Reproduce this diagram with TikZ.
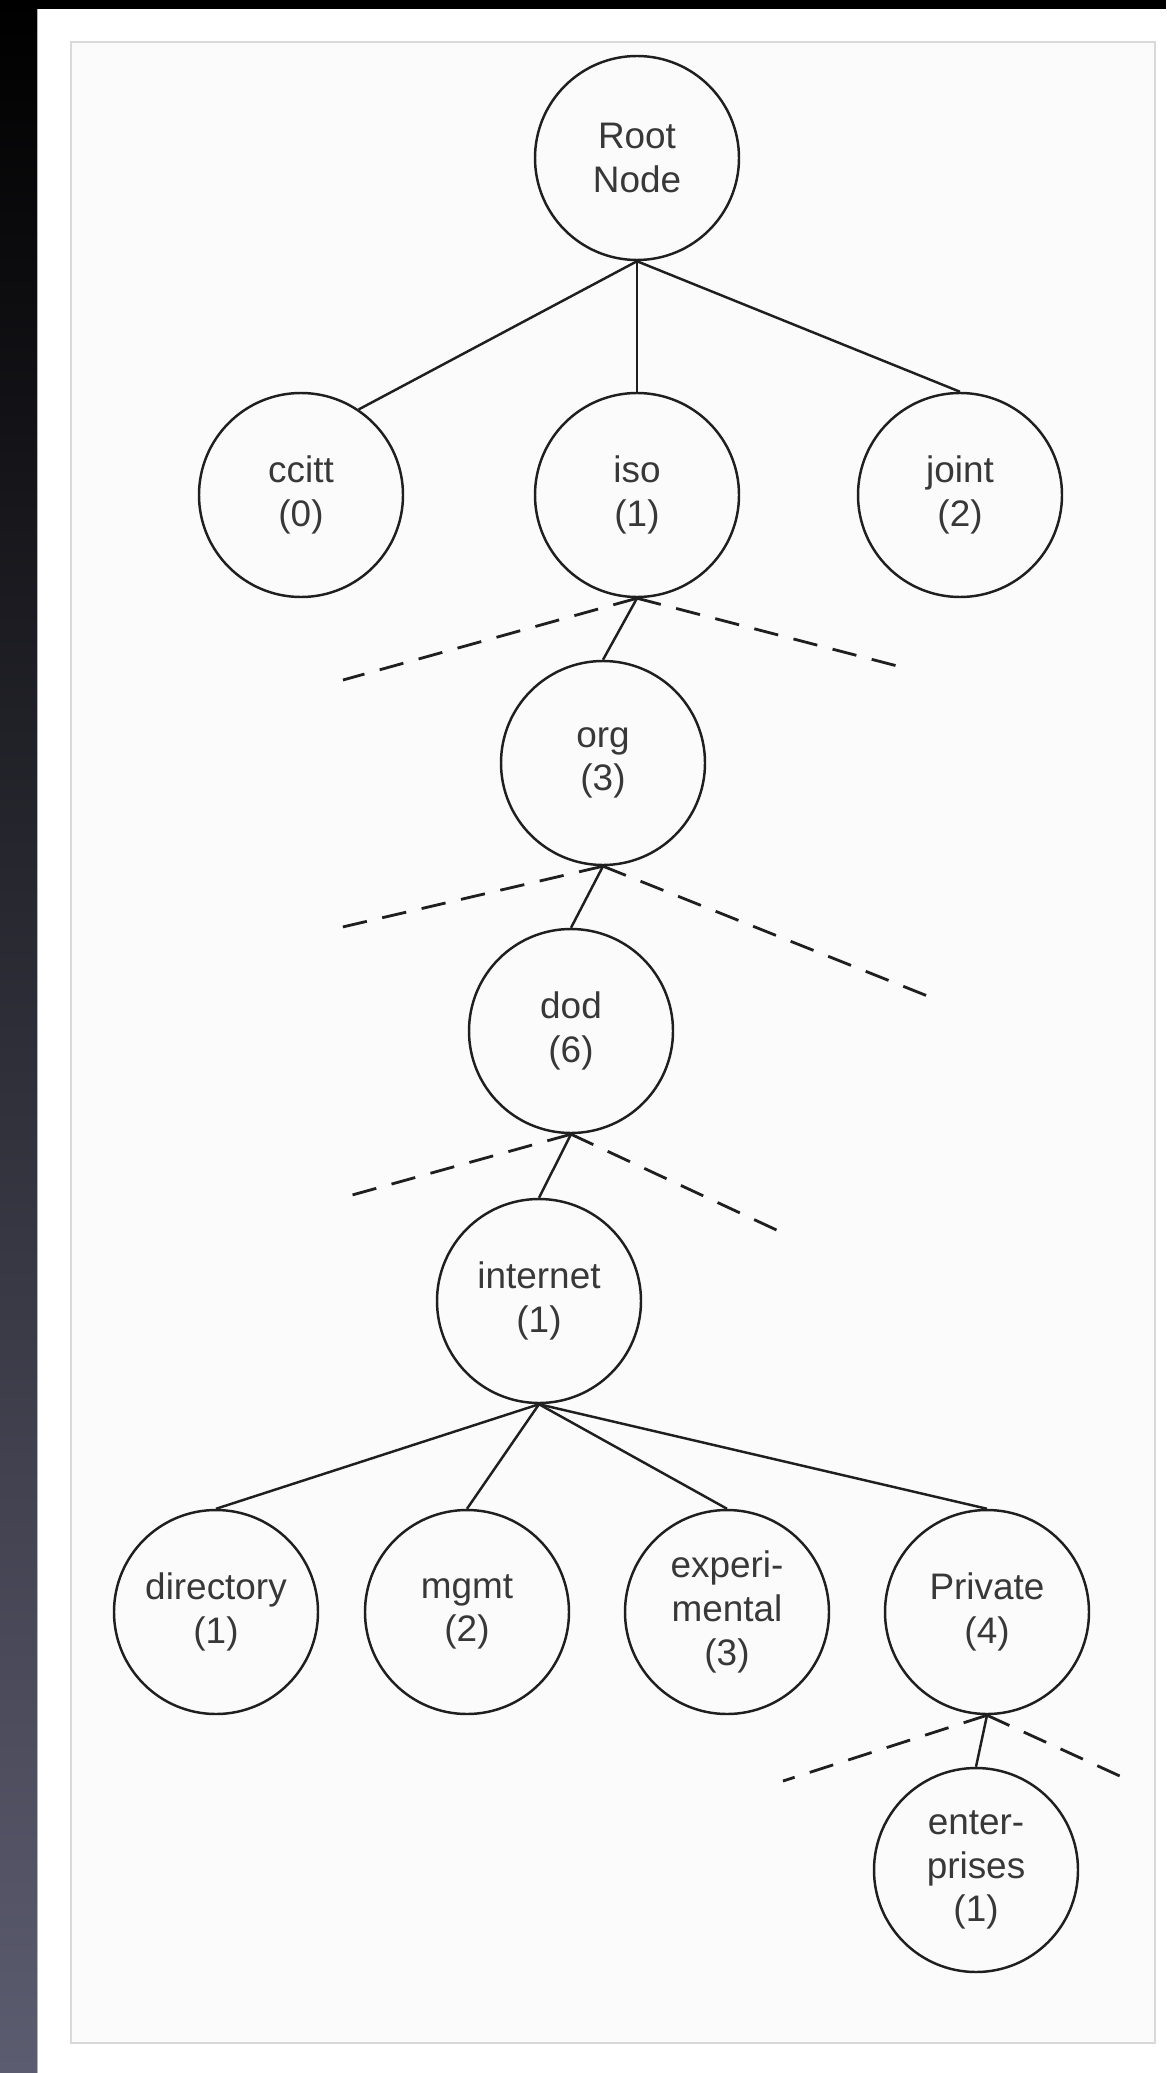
\documentclass[tikz,border=0pt]{standalone}
\usepackage{fontspec}
\setmainfont{Liberation Sans}
\tikzset{
    oid/.style={circle,draw=black!88,line width=0.7pt,minimum size=2.04cm,inner sep=0pt,align=center,text=black!78,font=\fontsize{10.5pt}{12.4pt}\selectfont},
    link/.style={draw=black!88,line width=0.7pt},
    stub/.style={draw=black!88,line width=0.8pt,dash pattern=on 7pt off 4.5pt}
}

\begin{document}
\begin{tikzpicture}
        \useasboundingbox (0,0) rectangle (11.66,-20.73);
        \fill[white] (0,0) rectangle (11.66,-20.73);
        \shade[top color=black,middle color={rgb,255:red,22;green,22;blue,45},bottom color={rgb,255:red,92;green,92;blue,112}] (0,0) rectangle (0.37,-20.73);
        \fill[black] (0,0) rectangle (11.66,-0.09);
        \draw[black!30,line width=0.4pt] (0.375,-0.09) -- (0.375,-20.73);
        \draw[fill=black!1.5,draw=black!15,line width=0.5pt] (0.71,-0.42) rectangle (11.55,-20.43);

        \node[oid] (root) at (6.37,-1.58) {Root\\Node};
        \node[oid] (ccitt) at (3.01,-4.95) {ccitt\\(0)};
        \node[oid] (iso) at (6.37,-4.95) {iso\\(1)};
        \node[oid] (joint) at (9.60,-4.95) {joint\\(2)};
        \node[oid] (org) at (6.03,-7.63) {org\\(3)};
        \node[oid] (dod) at (5.71,-10.31) {dod\\(6)};
        \node[oid] (inet) at (5.39,-13.01) {internet\\(1)};
        \node[oid] (dir) at (2.16,-16.12) {directory\\(1)};
        \node[oid] (mgmt) at (4.67,-16.12) {mgmt\\(2)};
        \node[oid] (exp) at (7.27,-16.12) {experi-\\mental\\(3)};
        \node[oid] (priv) at (9.87,-16.12) {Private\\(4)};
        \node[oid] (ent) at (9.76,-18.70) {enter-\\prises\\(1)};

        \coordinate (isoL) at (3.43,-6.80);
        \coordinate (isoR) at (9.05,-6.68);
        \coordinate (orgL) at (3.34,-9.29);
        \coordinate (orgR) at (9.30,-9.97);
        \coordinate (dodL) at (3.45,-11.97);
        \coordinate (dodR) at (7.83,-12.33);
        \coordinate (privL) at (7.83,-17.81);
        \coordinate (privR) at (11.22,-17.77);

        \draw[link] (root.south) -- (ccitt.56);
        \draw[link] (root.south) -- (iso.north);
        \draw[link] (root.south) -- (joint.north);
        \draw[link] (iso.south) -- (org.north);
        \draw[link] (org.south) -- (dod.north);
        \draw[link] (dod.south) -- (inet.north);
        \draw[link] (inet.south) -- (dir.north);
        \draw[link] (inet.south) -- (mgmt.north);
        \draw[link] (inet.south) -- (exp.north);
        \draw[link] (inet.south) -- (priv.north);
        \draw[link] (priv.south) -- (ent.north);

        \draw[stub] (iso.south) -- (isoL);
        \draw[stub] (iso.south) -- (isoR);
        \draw[stub] (org.south) -- (orgL);
        \draw[stub] (org.south) -- (orgR);
        \draw[stub] (dod.south) -- (dodL);
        \draw[stub] (dod.south) -- (dodR);
        \draw[stub] (priv.south) -- (privL);
        \draw[stub] (priv.south) -- (privR);
\end{tikzpicture}
\end{document}
